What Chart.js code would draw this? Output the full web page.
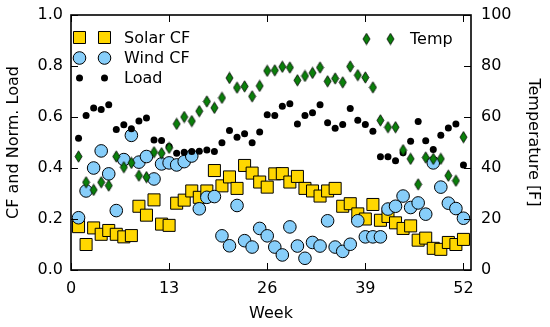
<!DOCTYPE html>
<html>
<head>
<meta charset="utf-8">
<script src="https://cdn.jsdelivr.net/npm/chart.js@4/dist/chart.umd.min.js"></script>
<style>
  body { margin: 0; background: #fff; }
  #wrap { width: 550px; height: 327px; }
</style>
</head>
<body>
<div id="wrap"><canvas id="myChart" width="550" height="327"></canvas></div>
<script>
// datos
const weeks = [1, 2, 3, 4, 5, 6, 7, 8, 9, 10, 11, 12, 13, 14, 15, 16, 17, 18, 19, 20, 21, 22, 23, 24, 25, 26,
  27, 28, 29, 30, 31, 32, 33, 34, 35, 36, 37, 38, 39, 40, 41, 42, 43, 44, 45, 46, 47, 48, 49, 50, 51, 52];
const solarCF = [0.17, 0.10, 0.165, 0.14, 0.155, 0.14, 0.13, 0.135, 0.25, 0.215, 0.275, 0.18, 0.175,
  0.262, 0.274, 0.31, 0.285, 0.31, 0.39, 0.33, 0.365, 0.32, 0.41, 0.38, 0.345, 0.325,
  0.377, 0.378, 0.345, 0.367, 0.32, 0.31, 0.29, 0.31, 0.32, 0.25, 0.26, 0.22, 0.20,
  0.257, 0.195, 0.21, 0.185, 0.163, 0.173, 0.117, 0.125, 0.085, 0.081, 0.108, 0.10, 0.12];
const windCF = [0.205, 0.31, 0.40, 0.467, 0.377, 0.233, 0.433, 0.528, 0.423, 0.445, 0.357, 0.416, 0.42,
  0.412, 0.425, 0.447, 0.24, 0.285, 0.288, 0.134, 0.095, 0.253, 0.115, 0.09, 0.163, 0.134,
  0.09, 0.059, 0.169, 0.094, 0.046, 0.108, 0.094, 0.193, 0.09, 0.073, 0.101, 0.193, 0.13,
  0.13, 0.13, 0.239, 0.25, 0.29, 0.245, 0.263, 0.219, 0.42, 0.325, 0.262, 0.241, 0.203];
const load = [0.517, 0.606, 0.635, 0.629, 0.648, 0.551, 0.57, 0.554, 0.584, 0.596, 0.51, 0.508, 0.484,
  0.458, 0.462, 0.465, 0.466, 0.471, 0.465, 0.499, 0.547, 0.521, 0.534, 0.499, 0.541, 0.609,
  0.606, 0.642, 0.652, 0.573, 0.606, 0.617, 0.648, 0.577, 0.556, 0.571, 0.633, 0.587, 0.571,
  0.544, 0.444, 0.444, 0.428, 0.46, 0.505, 0.582, 0.507, 0.473, 0.528, 0.557, 0.573, 0.412];
const temp = [44.5, 34.4, 31.4, 34.4, 33.1, 44.5, 40.3, 42, 37, 36.4, 46.2, 45.8, 47.9,
  57.3, 60, 58.4, 62.3, 66.1, 63.6, 67.5, 75.3, 71.5, 72, 68.1, 72.2, 78.1,
  78.3, 79.7, 79.4, 74.4, 76.1, 77.3, 79.4, 74, 75.1, 73.6, 79.8, 76.4, 75.5,
  71.6, 58.7, 56, 56, 47, 43.6, 33.6, 44.1, 43.6, 43.6, 37, 35, 52.1];

const weekTicks = [0, 13, 26, 39, 52];
const cfTicks = [0, 0.2, 0.4, 0.6, 0.8, 1.0];
const tempTicks = [0, 20, 40, 60, 80, 100];

const pares = (ys) => weeks.map((w, i) => ({ x: w, y: ys[i] }));

// diamante delgado (marker 'd' de matplotlib)
const diamante = document.createElement("canvas");
diamante.width = 9;
diamante.height = 13;
(() => {
  const c = diamante.getContext("2d");
  c.beginPath();
  c.moveTo(4.5, 0.8);
  c.lineTo(8, 6.5);
  c.lineTo(4.5, 12.2);
  c.lineTo(1, 6.5);
  c.closePath();
  c.fillStyle = "#0a800a";
  c.fill();
  c.lineWidth = 0.8;
  c.strokeStyle = "#000";
  c.stroke();
})();

Chart.defaults.font.family = "'DejaVu Sans', sans-serif";
Chart.defaults.font.size = 16;
Chart.defaults.color = "#000";

const series = [
  { label: "Solar CF", data: pares(solarCF), yAxisID: "y", order: 4,
    pointStyle: "rect", pointRadius: 8.5, backgroundColor: "#ffd700", borderColor: "#000", borderWidth: 1 },
  { label: "Wind CF", data: pares(windCF), yAxisID: "y", order: 3,
    pointStyle: "circle", pointRadius: 6.3, backgroundColor: "#87cefa", borderColor: "#000", borderWidth: 1 },
  { label: "Load", data: pares(load), yAxisID: "y", order: 2,
    pointStyle: "circle", pointRadius: 3.5, backgroundColor: "#000", borderColor: "#000", borderWidth: 0 },
  { label: "Temp", data: pares(temp), yAxisID: "y2", order: 1,
    pointStyle: diamante, pointRadius: 6, backgroundColor: "#0a800a", borderColor: "#000", borderWidth: 0 },
];

/* marco, ticks hacia adentro y leyenda */
const marcoPlugin = {
  id: "marco",
  afterDraw(chart) {
    const { ctx, chartArea: a, scales } = chart;
    ctx.save();
    ctx.strokeStyle = "#000";
    ctx.lineWidth = 1;
    const tl = 7;
    ctx.beginPath();
    weekTicks.forEach((v) => {
      const x = Math.round(scales.x.getPixelForValue(v)) + 0.5;
      ctx.moveTo(x, a.bottom); ctx.lineTo(x, a.bottom - tl);
      ctx.moveTo(x, a.top); ctx.lineTo(x, a.top + tl);
    });
    cfTicks.forEach((v) => {
      const y = Math.round(scales.y.getPixelForValue(v)) + 0.5;
      ctx.moveTo(a.left, y); ctx.lineTo(a.left + tl, y);
    });
    tempTicks.forEach((v) => {
      const y = Math.round(scales.y2.getPixelForValue(v)) + 0.5;
      ctx.moveTo(a.right, y); ctx.lineTo(a.right - tl, y);
    });
    ctx.stroke();
    ctx.lineWidth = 1.6;
    ctx.strokeRect(a.left, a.top, a.right - a.left, a.bottom - a.top);

    // leyenda con dos marcadores por entrada
    const leyenda = [
      { ds: series[0], xs: [79.5, 104.5], y: 37.5, tx: 124 },
      { ds: series[1], xs: [79.5, 104.5], y: 58, tx: 124 },
      { ds: series[2], xs: [79.5, 104.5], y: 78, tx: 124 },
      { ds: series[3], xs: [366.5, 390.5], y: 39, tx: 410 },
    ];
    ctx.font = "16px 'DejaVu Sans', sans-serif";
    ctx.textBaseline = "middle";
    ctx.textAlign = "left";
    leyenda.forEach((e) => {
      e.xs.forEach((x) => {
        ctx.fillStyle = e.ds.backgroundColor;
        ctx.strokeStyle = e.ds.borderColor;
        ctx.lineWidth = e.ds.borderWidth;
        Chart.helpers.drawPoint(ctx, {
          pointStyle: e.ds.pointStyle, radius: e.ds.pointRadius, rotation: 0, borderWidth: e.ds.borderWidth,
        }, x, e.y);
      });
      ctx.fillStyle = "#000";
      ctx.fillText(e.ds.label, e.tx, e.y + 1);
    });
    ctx.restore();
  },
};

const ajustarY = (ancho) => (s) => {
  s.width = ancho;
  s.paddingTop = 0;
  s.paddingBottom = 0;
};

const config = {
  type: "scatter",
  data: { datasets: series },
  options: {
    responsive: false,
    animation: false,
    devicePixelRatio: 1,
    layout: { padding: { top: 15, left: 0, right: 0, bottom: 0 } },
    plugins: { legend: { display: false }, tooltip: { enabled: false } },
    scales: {
      x: {
        type: "linear", position: "bottom", min: 0, max: 53,
        grid: { display: false, drawTicks: false }, border: { display: false },
        afterBuildTicks: (s) => { s.ticks = weekTicks.map((v) => ({ value: v })); },
        afterFit: (s) => { s.height = 57; s.paddingLeft = 0; s.paddingRight = 0; },
        ticks: { padding: 9, maxRotation: 0, autoSkip: false },
        title: { display: true, text: "Week", padding: { top: 0, bottom: 4 } },
      },
      y: {
        type: "linear", position: "left", min: 0, max: 1,
        grid: { display: false, drawTicks: false }, border: { display: false },
        afterBuildTicks: (s) => { s.ticks = cfTicks.map((v) => ({ value: v })); },
        afterFit: ajustarY(71),
        ticks: { padding: 8, callback: (v) => Number(v).toFixed(1) },
        title: { display: true, text: "CF and Norm. Load", padding: { top: 4, bottom: 0 } },
      },
      y2: {
        type: "linear", position: "right", min: 0, max: 100,
        grid: { display: false, drawTicks: false }, border: { display: false },
        afterBuildTicks: (s) => { s.ticks = tempTicks.map((v) => ({ value: v })); },
        afterFit: ajustarY(79),
        ticks: { padding: 10 },
        title: { display: true, text: "Temperature [F]", padding: { top: 7, bottom: 0 } },
      },
    },
  },
  plugins: [marcoPlugin],
};

var myChart = new Chart(document.getElementById("myChart"), config);
</script>
</body>
</html>
